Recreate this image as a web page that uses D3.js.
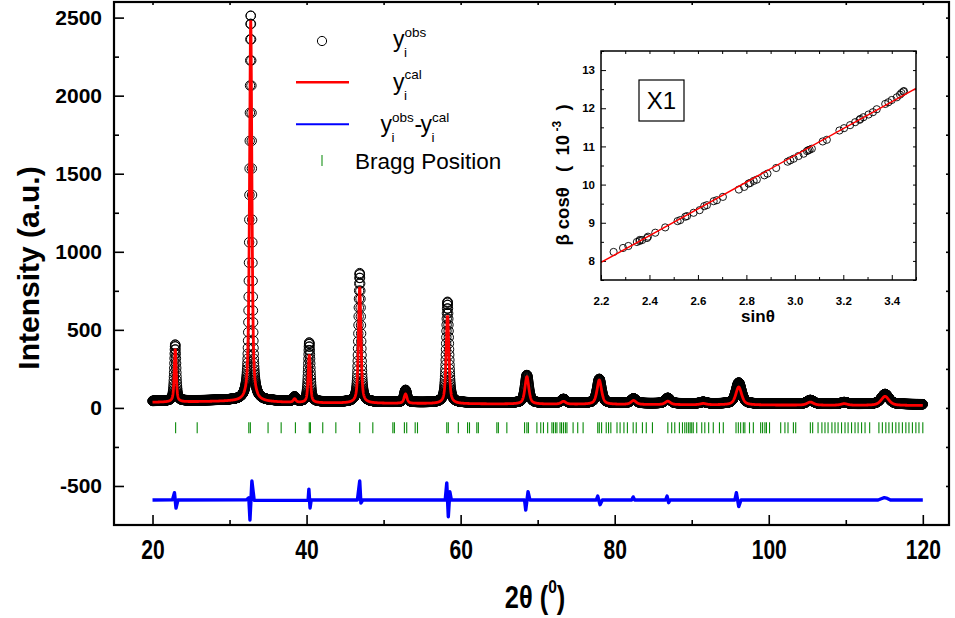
<!DOCTYPE html>
<html><head><meta charset="utf-8">
<script src="https://cdn.jsdelivr.net/npm/d3@7"></script>
<style>body{margin:0;background:#fff}svg{display:block}</style>
</head><body>
<svg id="c" width="955" height="618"></svg>
<script>
// ---------------- data ----------------
// Reflections: position (2theta), observed and calculated height above background, FWHM
const peakPos  = [22.95, 32.75, 38.45, 40.35, 46.9, 52.85, 58.3, 68.6, 73.35, 78.0, 82.45, 86.9, 91.5, 96.1, 105.4, 109.8, 115.1];
const peakObs  = [360, 2470, 28, 378, 825, 78, 645, 178, 25, 155, 30, 35, 10, 135, 25, 12, 65];
const peakCal  = [335, 2440, 22, 303, 745, 60, 565, 175, 18, 155, 25, 22, 8, 115, 20, 10, 58];
const peakFwhm = [0.30, 0.36, 0.40, 0.34, 0.38, 0.45, 0.42, 0.60, 0.70, 0.70, 0.80, 0.80, 0.90, 0.90, 1.00, 1.00, 1.20];
// background anchors
const bgX = [20, 30, 33, 40, 60, 80, 100, 120];
const bgY = [36, 42, 40, 32, 26, 22, 18, 15];
const obsBgOffset = 8;
// difference curve (yobs - ycal, shifted)
const diffX = [20, 22.6, 22.85, 23.05, 23.3, 32.2, 32.5, 32.65, 32.9, 33.2, 40.2, 40.3, 40.45, 40.6, 46.6, 46.9, 47.05, 47.3, 58.0, 58.2, 58.4, 58.6, 58.8, 68.3, 68.45, 68.75, 69.0, 77.6, 77.8, 78.1, 78.4, 82.2, 82.4, 82.6, 86.6, 86.8, 87.0, 87.2, 95.6, 95.8, 96.1, 96.4, 114.2, 114.6, 115.0, 115.4, 115.8, 120];
const diffY = [-590, -588, -543, -641, -590, -588, -575, -718, -468, -592, -592, -520, -641, -590, -590, -468, -609, -590, -590, -480, -697, -537, -590, -590, -654, -537, -590, -590, -565, -620, -590, -590, -570, -590, -590, -565, -607, -590, -590, -543, -632, -590, -590, -582, -575, -580, -590, -590];
// Bragg positions
const braggPos = [23.0, 25.8, 32.5, 32.7, 35.0, 36.7, 38.55, 40.35, 40.5, 42.1, 43.8, 46.9, 48.6, 51.2, 51.4, 52.7, 53.0, 54.1, 54.4, 58.2, 58.4, 59.7, 60.9, 61.15, 62.1, 62.3, 64.7, 64.9, 66.0, 68.3, 68.6, 68.8, 69.9, 70.4, 70.75, 71.3, 71.85, 72.05, 72.3, 72.5, 72.9, 73.1, 73.35, 73.6, 73.8, 74.6, 75.2, 75.9, 77.8, 78.0, 78.3, 78.9, 79.2, 79.5, 80.3, 80.7, 81.2, 81.65, 82.4, 82.8, 83.6, 84.1, 84.9, 86.9, 87.4, 87.8, 88.4, 88.8, 89.1, 89.35, 89.6, 89.8, 90.0, 90.2, 90.65, 91.3, 91.7, 92.2, 92.8, 93.6, 94.1, 95.75, 96.05, 96.35, 96.7, 96.9, 97.5, 98.0, 98.95, 99.2, 99.5, 99.7, 100.1, 101.55, 102.1, 102.5, 103.2, 103.5, 105.4, 105.7, 106.4, 106.9, 107.3, 107.7, 108.2, 108.6, 109.0, 109.45, 109.9, 110.3, 110.75, 111.2, 111.6, 112.05, 112.5, 113.1, 114.3, 114.75, 115.2, 115.6, 116.05, 116.5, 116.9, 117.35, 117.8, 118.2, 118.65, 119.1, 119.5, 120.0];
// axis ticks
const xMajor = [20, 40, 60, 80, 100, 120];
const xMinor = [30, 50, 70, 90, 110];
const yMajor = [-500, 0, 500, 1000, 1500, 2000, 2500];
const yMinor = [-250, 250, 750, 1250, 1750, 2250];
// inset: beta*cos(theta) vs sin(theta)
const insetSin = [2.252, 2.291, 2.313, 2.348, 2.359, 2.36, 2.370, 2.390, 2.394, 2.424, 2.465, 2.516, 2.527, 2.548, 2.555, 2.582, 2.607, 2.626, 2.637, 2.665, 2.678, 2.703, 2.769, 2.791, 2.809, 2.816, 2.830, 2.843, 2.874, 2.887, 2.923, 2.970, 2.981, 2.995, 3.015, 3.036, 3.050, 3.055, 3.061, 3.070, 3.115, 3.132, 3.184, 3.203, 3.228, 3.249, 3.267, 3.27, 3.283, 3.304, 3.322, 3.338, 3.373, 3.386, 3.400, 3.421, 3.434, 3.44, 3.448, 3.45];
const insetBcos = [8.235, 8.339, 8.391, 8.496, 8.522, 8.55, 8.548, 8.600, 8.635, 8.739, 8.878, 9.043, 9.070, 9.157, 9.174, 9.261, 9.330, 9.435, 9.461, 9.565, 9.591, 9.678, 9.870, 9.939, 10.026, 10.043, 10.096, 10.130, 10.243, 10.287, 10.435, 10.600, 10.635, 10.678, 10.748, 10.809, 10.878, 10.90, 10.913, 10.939, 11.130, 11.174, 11.417, 11.478, 11.557, 11.635, 11.696, 11.72, 11.765, 11.835, 11.896, 11.974, 12.113, 12.157, 12.217, 12.287, 12.357, 12.40, 12.435, 12.45];
const fitX = [2.2, 3.5];
const fitY = [7.96, 12.52];
const insetXMajor = [2.2, 2.4, 2.6, 2.8, 3.0, 3.2, 3.4];
const insetXMinor = [2.3, 2.5, 2.7, 2.9, 3.1, 3.3, 3.5];
const insetYMajor = [8, 9, 10, 11, 12, 13];
const insetYMinor = [7.5, 8.5, 9.5, 10.5, 11.5, 12.5, 13.5];

// ---------------- drawing ----------------
const FONT = "'Liberation Sans', Arial, sans-serif";
const svg = d3.select('#c');
const M = {l:114, r:949, t:2, b:525};
const x = d3.scaleLinear().domain([15, 123.4]).range([M.l, M.r]);
const y = d3.scaleLinear().domain([-750, 2600]).range([M.b, M.t]);
const bg = d3.scaleLinear().domain(bgX).range(bgY).clamp(true);

function pv(t, x0, w){
  const d = (t - x0) / w;
  return 0.6 / (1 + 4*d*d) + 0.4 * Math.exp(-4*Math.LN2*d*d);
}
const grid = d3.range(0, 5001).map(i => 20 + i*0.02);
const obs = grid.map(t => bg(t) + obsBgOffset + d3.sum(peakPos, (p,i) => peakObs[i]*pv(t, p, peakFwhm[i])));
const cal = grid.map(t => bg(t) + d3.sum(peakPos, (p,i) => peakCal[i]*pv(t, p, peakFwhm[i])));

svg.append('clipPath').attr('id','mclip').append('rect')
  .attr('x', M.l).attr('y', M.t).attr('width', M.r-M.l).attr('height', M.b-M.t);
const plot = svg.append('g').attr('clip-path','url(#mclip)');

// observed circles
plot.append('g').selectAll('circle').data(grid).join('circle')
  .attr('cx', d => x(d)).attr('cy', (d,i) => y(obs[i])).attr('r', 4.7)
  .attr('fill','none').attr('stroke','#000').attr('stroke-width',1);

// calculated
plot.append('path').datum(grid)
  .attr('d', d3.line().x(d => x(d)).y((d,i) => y(cal[i])))
  .attr('fill','none').attr('stroke','#ff0000').attr('stroke-width',2.8);

// difference
plot.append('path').datum(diffX)
  .attr('d', d3.line().x(d => x(d)).y((d,i) => y(diffY[i])))
  .attr('fill','none').attr('stroke','#0000ff').attr('stroke-width',3.4).attr('stroke-linejoin','round');

// Bragg ticks
plot.append('g').selectAll('line').data(braggPos).join('line')
  .attr('x1', d => x(d)).attr('x2', d => x(d))
  .attr('y1', y(-92)).attr('y2', y(-163))
  .attr('stroke','#0a8a0a').attr('stroke-width',1.1);

// axes
const fmt = d => String(d);
function styleAxis(g){ g.select('.domain').remove(); g.selectAll('line').attr('stroke','#000').attr('stroke-width',1.6); }
const gxB = svg.append('g').attr('transform',`translate(0,${M.b})`)
  .call(d3.axisBottom(x).tickValues(xMajor).tickSize(-10).tickPadding(15).tickFormat(fmt));
styleAxis(gxB);
gxB.selectAll('text').attr('font-family',FONT).attr('font-weight','bold').attr('font-size',27)
  .attr('fill','#000').attr('transform','scale(0.78,1)');
svg.append('g').attr('transform',`translate(0,${M.b})`)
  .call(d3.axisBottom(x).tickValues(xMinor).tickSize(-5).tickFormat('')).call(styleAxis);
svg.append('g').attr('transform',`translate(0,${M.t})`)
  .call(d3.axisTop(x).tickValues(xMajor.concat(xMinor)).tickSize(-3).tickFormat('')).call(styleAxis);

const gyL = svg.append('g').attr('transform',`translate(${M.l},0)`)
  .call(d3.axisLeft(y).tickValues(yMajor).tickSize(-10).tickPadding(12).tickFormat(fmt));
styleAxis(gyL);
gyL.selectAll('text').attr('font-family',FONT).attr('font-weight','bold').attr('font-size',21).attr('fill','#000');
svg.append('g').attr('transform',`translate(${M.l},0)`)
  .call(d3.axisLeft(y).tickValues(yMinor).tickSize(-5).tickFormat('')).call(styleAxis);
svg.append('g').attr('transform',`translate(${M.r},0)`)
  .call(d3.axisRight(y).tickValues(yMajor.concat(yMinor)).tickSize(-3).tickFormat('')).call(styleAxis);

svg.append('rect').attr('x',M.l).attr('y',M.t).attr('width',M.r-M.l).attr('height',M.b-M.t)
  .attr('fill','none').attr('stroke','#000').attr('stroke-width',2.2);

// axis titles
const xt = svg.append('text').attr('font-family',FONT).attr('font-weight','bold').attr('font-size',31)
  .attr('text-anchor','middle').attr('transform','translate(535,608) scale(0.82,1)');
xt.append('tspan').text('2θ (');
xt.append('tspan').attr('font-size',19).attr('dy',-15).text('0');
xt.append('tspan').attr('dy',15).text(')');

svg.append('text').attr('font-family',FONT).attr('font-weight','bold').attr('font-size',30)
  .attr('text-anchor','middle').attr('transform','translate(39,268) rotate(-90)').text('Intensity (a.u.)');

// legend
const L = svg.append('g').attr('font-family',FONT).attr('fill','#000');
L.append('circle').attr('cx',322).attr('cy',41).attr('r',4.6).attr('fill','none').attr('stroke','#000').attr('stroke-width',1);
L.append('line').attr('x1',296).attr('x2',349).attr('y1',82.3).attr('y2',82.3).attr('stroke','#ff0000').attr('stroke-width',2.6);
L.append('line').attr('x1',296).attr('x2',349).attr('y1',124.3).attr('y2',124.3).attr('stroke','#0000ff').attr('stroke-width',2);
L.append('line').attr('x1',322).attr('x2',322).attr('y1',155).attr('y2',166).attr('stroke','#2a9a2a').attr('stroke-width',1.2);
function yLabel(x0, base, sup){
  L.append('text').attr('x',x0).attr('y',base).attr('font-size',23).text('y');
  L.append('text').attr('x',x0+11.5).attr('y',base-10.5).attr('font-size',13.5).text(sup);
  L.append('text').attr('x',x0+11).attr('y',base+10).attr('font-size',13.5).text('i');
}
yLabel(393, 47, 'obs');
yLabel(393, 89.5, 'cal');
yLabel(380.5, 132, 'obs');
L.append('text').attr('x',414.5).attr('y',132).attr('font-size',23).text('-');
yLabel(420.5, 132, 'cal');
L.append('text').attr('x',355).attr('y',169).attr('font-size',22.5).text('Bragg Position');

// ---------------- inset ----------------
const I = {l:601, r:916, t:51, b:280};
const xi = d3.scaleLinear().domain([2.2, 3.5]).range([I.l, I.r]);
const yi = d3.scaleLinear().domain([7.5, 13.5]).range([I.b, I.t]);
const ins = svg.append('g');
ins.append('rect').attr('x',I.l).attr('y',I.t).attr('width',I.r-I.l).attr('height',I.b-I.t).attr('fill','#fff');
function styleI(g){ g.select('.domain').remove(); g.selectAll('line').attr('stroke','#000').attr('stroke-width',1); }
const gxi = ins.append('g').attr('transform',`translate(0,${I.b})`)
  .call(d3.axisBottom(xi).tickValues(insetXMajor).tickSize(-5).tickPadding(17).tickFormat(d3.format('.1f')));
styleI(gxi);
gxi.selectAll('text').attr('font-family',FONT).attr('font-weight','bold').attr('font-size',11.5).attr('fill','#000');
ins.append('g').attr('transform',`translate(0,${I.b})`).call(d3.axisBottom(xi).tickValues(insetXMinor).tickSize(-3).tickFormat('')).call(styleI);
ins.append('g').attr('transform',`translate(0,${I.t})`).call(d3.axisTop(xi).tickValues(insetXMajor.concat(insetXMinor)).tickSize(-3).tickFormat('')).call(styleI);
const gyi = ins.append('g').attr('transform',`translate(${I.l},0)`)
  .call(d3.axisLeft(yi).tickValues(insetYMajor).tickSize(-5).tickPadding(6).tickFormat(fmt));
styleI(gyi);
gyi.selectAll('text').attr('font-family',FONT).attr('font-weight','bold').attr('font-size',11.5).attr('fill','#000');
ins.append('g').attr('transform',`translate(${I.l},0)`).call(d3.axisLeft(yi).tickValues(insetYMinor).tickSize(-3).tickFormat('')).call(styleI);
ins.append('g').attr('transform',`translate(${I.r},0)`).call(d3.axisRight(yi).tickValues(insetYMajor.concat(insetYMinor)).tickSize(-3).tickFormat('')).call(styleI);

ins.append('clipPath').attr('id','iclip').append('rect').attr('x',I.l).attr('y',I.t).attr('width',I.r-I.l).attr('height',I.b-I.t);
const ip = ins.append('g').attr('clip-path','url(#iclip)');
ip.append('g').selectAll('circle').data(insetSin).join('circle')
  .attr('cx', d => xi(d)).attr('cy', (d,i) => yi(insetBcos[i])).attr('r',3.6)
  .attr('fill','none').attr('stroke','#000').attr('stroke-width',0.9);
ip.append('path').datum(fitX)
  .attr('d', d3.line().x(d => xi(d)).y((d,i) => yi(fitY[i])))
  .attr('stroke','#ff0000').attr('stroke-width',1.5).attr('fill','none');
ins.append('rect').attr('x',I.l).attr('y',I.t).attr('width',I.r-I.l).attr('height',I.b-I.t)
  .attr('fill','none').attr('stroke','#000').attr('stroke-width',1.5);

ins.append('rect').attr('x',639).attr('y',80).attr('width',45).attr('height',41)
  .attr('fill','none').attr('stroke','#000').attr('stroke-width',1.2);
ins.append('text').attr('x',661.5).attr('y',109).attr('text-anchor','middle')
  .attr('font-family',FONT).attr('font-size',24).text('X1');

ins.append('text').attr('x',758).attr('y',322).attr('text-anchor','middle')
  .attr('font-family',FONT).attr('font-weight','bold').attr('font-size',17).text('sinθ');
const yti = ins.append('text').attr('font-family',FONT).attr('font-weight','bold').attr('font-size',18.5)
  .attr('text-anchor','middle').attr('transform','translate(569,175) rotate(-90)')
  .attr('xml:space','preserve');
yti.append('tspan').text('β cosθ   (  10');
yti.append('tspan').attr('font-size',12).attr('dy',-8).text(' -3');
yti.append('tspan').attr('dy',8).text('  )');
</script>
</body></html>
